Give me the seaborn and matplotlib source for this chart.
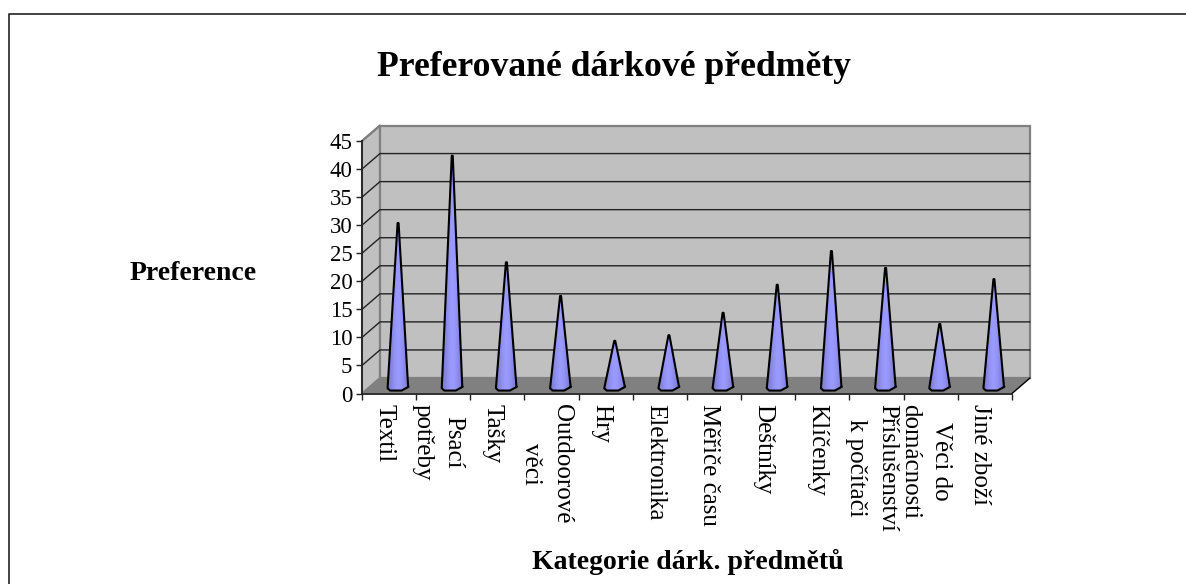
import numpy as np
import pandas as pd
import matplotlib
matplotlib.use('Agg')
import matplotlib.pyplot as plt
import seaborn as sns
from matplotlib.patches import Polygon, PathPatch
from matplotlib.path import Path
from matplotlib.transforms import ScaledTranslation

categories = ['Textil', 'Psací\npotřeby', 'Tašky', 'Outdoorové\nvěci', 'Hry', 'Elektronika',
              'Měřiče času', 'Deštníky', 'Klíčenky', 'Příslušenství\nk počítači',
              'Věci do\ndomácnosti', 'Jiné zboží']
preference = [29, 41, 22, 16, 8, 9, 13, 18, 24, 21, 11, 19]
y_ticks = [0, 5, 10, 15, 20, 25, 30, 35, 40, 45]

W, H = 1186, 584
df = pd.DataFrame({'kategorie': categories, 'preference': preference})

sns.set_theme(style='white')
plt.rcParams['font.family'] = ['Liberation Serif', 'DejaVu Serif']

fig = plt.figure(figsize=(W / 100, H / 100), dpi=100)
# front plane of the fake 3D box, in pixels
ax = fig.add_axes([362 / W, 1 - 393.5 / H, 650 / W, 252.5 / H])
ax.patch.set_alpha(0)

sns.barplot(data=df, x='kategorie', y='preference', ax=ax, color='#9999ff', width=0.4, zorder=1)
ax.set_xlim(-0.5, 11.5)
ax.set_ylim(0, 45)

# depth of the box in data units
px_x = 12 / 650
px_y = 45 / 252.5
dx = 18 * px_x
dy = 15.5 * px_y

# walls and floor
ax.add_patch(Polygon([(-0.5, 0), (-0.5 + dx, dy), (-0.5 + dx, 45 + dy), (-0.5, 45)],
                     fc='#c0c0c0', ec='#808080', lw=1.5, clip_on=False, zorder=0.2))
ax.add_patch(Polygon([(-0.5 + dx, dy), (11.5 + dx, dy), (11.5 + dx, 45 + dy), (-0.5 + dx, 45 + dy)],
                     fc='#c0c0c0', ec='#808080', lw=1.6, clip_on=False, zorder=0.2))
ax.add_patch(Polygon([(-0.5, 0), (11.5, 0), (11.5 + dx, dy), (-0.5 + dx, dy)],
                     fc='#808080', ec='none', clip_on=False, zorder=0.4))
ax.plot([11.5, 11.5 + dx], [0, dy], color='black', lw=1, clip_on=False, zorder=0.5)

# gridlines on back wall and side wall
for v in y_ticks[1:-1]:
    ax.plot([-0.5, -0.5 + dx, 11.5 + dx], [v, v + dy, v + dy], color='#222222', lw=1,
            clip_on=False, zorder=0.3)
ax.plot([-0.5, -0.5 + dx], [45, 45 + dy], color='#808080', lw=1.5, clip_on=False, zorder=0.3)

# gradient for the cones, light in the middle
gradient = np.array([[0.8, 0.86, 0.92, 0.97, 1.0, 1.0, 0.97, 0.92, 0.86, 0.8]])
rgb = np.array([0x99, 0x99, 0xff]) / 255
shade = gradient[..., None] * rgb

# turn each seaborn bar into a cone standing in the middle of the floor
for bar, value in zip(ax.patches[:len(categories)], preference):
    centre = bar.get_x() + bar.get_width() / 2
    bar.set_visible(False)
    cx = centre + dx / 2
    base = dy / 2
    tip = base + value
    half = 10.5 * px_x
    verts = [(cx + 0.5 * px_x, tip), (cx + half - 0.5 * px_x, base - 0.5 * px_y), (cx + half, base - 1 * px_y),
             (cx + half - 7 * px_x, base - 4.8 * px_y), (cx - half + 2.5 * px_x, base - 4.8 * px_y),
             (cx - half, base - 2.5 * px_y), (cx - 0.5 * px_x, tip)]
    outline = Path(verts + [verts[0]], closed=True)
    ax.add_patch(PathPatch(outline, fc='none', ec='black', lw=1.5, joinstyle='round',
                           clip_on=False, zorder=3))
    im = ax.imshow(shade, extent=(cx - half, cx + half, base - 5 * px_y, tip), aspect='auto',
                   interpolation='bilinear', zorder=2)
    im.set_clip_path(outline, transform=ax.transData)
ax.set_xlim(-0.5, 11.5)
ax.set_ylim(0, 45)

# axes
sns.despine(ax=ax, top=True, right=True)
for side in ['left', 'bottom']:
    ax.spines[side].set_color('#222222')
    ax.spines[side].set_linewidth(1.3)
ax.set_yticks(y_ticks)
ax.set_xticks(np.arange(-0.5, 12, 1))
ax.set_xticklabels([])
ax.set_xticks(range(len(categories)), categories, minor=True, rotation=270, ma='center', va='top', ha='center')
ax.tick_params(axis='x', which='major', length=4, width=1, color='#222222', bottom=True)
ax.tick_params(axis='x', which='minor', length=0, pad=7.5, labelsize=18, labelcolor='black', bottom=True)
ax.tick_params(axis='y', length=4.5, width=1, color='#222222', pad=2.5, labelsize=16.5, labelcolor='black', left=True)
ax.set_xlabel('')
ax.set_ylabel('')
shift = ScaledTranslation(-5 / 100, 0, fig.dpi_scale_trans)
for label in ax.get_xticklabels(minor=True):
    label.set_transform(label.get_transform() + shift)
    label.set_linespacing(1.52)

# titles
fig.text(614 / W, 1 - 68 / H, 'Preferované dárkové předměty', ha='center', va='center',
         fontsize=25.7, fontweight='bold', color='black')
fig.text(193 / W, 1 - 273 / H, 'Preference', ha='center', va='center',
         fontsize=20, fontweight='bold', color='black')
fig.text(688 / W, 1 - 562 / H, 'Kategorie dárk. předmětů', ha='center', va='center',
         fontsize=20, fontweight='bold', color='black')

# outer frame, open at the bottom and right
fig.add_artist(plt.Line2D([8.5 / W, 8.5 / W, 1], [0, 1 - 13.5 / H, 1 - 13.5 / H], color='#222222', lw=1.2))

fig.savefig('out.png', dpi=100, facecolor='white')
plt.close()
